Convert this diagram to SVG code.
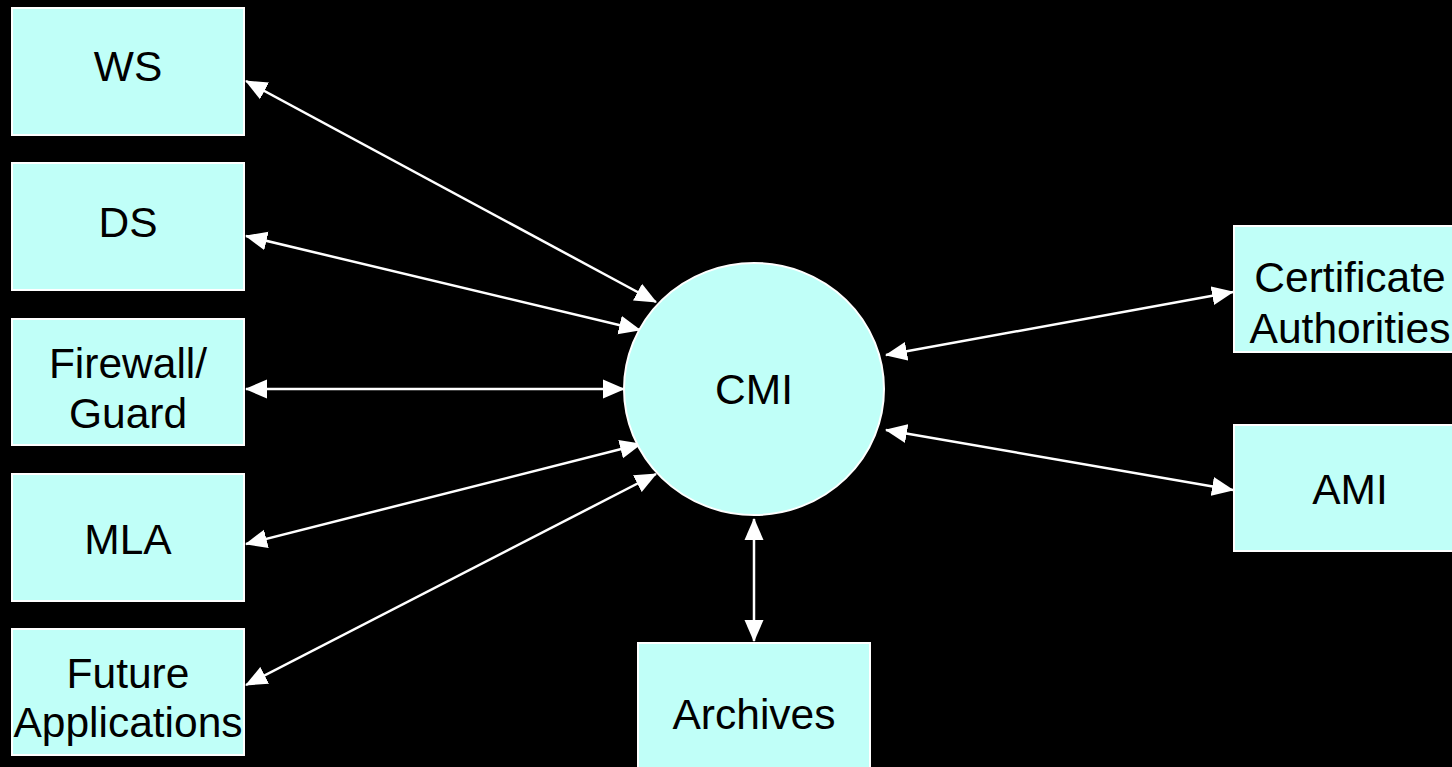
<svg xmlns="http://www.w3.org/2000/svg" width="1452" height="767" viewBox="0 0 1452 767">
  <style>
    .box { fill: #c0fff8; stroke: #ffffff; stroke-width: 2; }
    .lbl { font-family: "Liberation Sans", Arial, sans-serif; font-size: 42.5px; fill: #000000; text-anchor: middle; }
    .link { stroke: #ffffff; stroke-width: 2.5; fill: none; marker-start: url(#head); marker-end: url(#head); }
  </style>
  <defs>
    <marker id="head" markerUnits="userSpaceOnUse" viewBox="0 0 22 20" refX="21" refY="10" markerWidth="22" markerHeight="20" orient="auto-start-reverse">
      <path d="M0,0.5 L22,10 L0,19.5 Z" fill="#ffffff"/>
    </marker>
  </defs>
  <rect width="1452" height="767" fill="#000000"/>

  <g id="connectors">
    <line class="link" x1="246" y1="81" x2="656" y2="302"/>
    <line class="link" x1="246" y1="236" x2="640" y2="330"/>
    <line class="link" x1="246" y1="389" x2="624" y2="389"/>
    <line class="link" x1="246" y1="544" x2="641" y2="444"/>
    <line class="link" x1="246" y1="685" x2="656" y2="474"/>
    <line class="link" x1="886" y1="355" x2="1233" y2="292"/>
    <line class="link" x1="886" y1="430" x2="1233" y2="490"/>
    <line class="link" x1="754" y1="519" x2="754" y2="641"/>
  </g>

  <g id="ws">
    <rect class="box" x="12" y="8" width="232" height="127"/>
    <text class="lbl" x="128" y="81">WS</text>
  </g>
  <g id="ds">
    <rect class="box" x="12" y="163" width="232" height="127"/>
    <text class="lbl" x="128" y="237">DS</text>
  </g>
  <g id="firewall">
    <rect class="box" x="12" y="319" width="232" height="126"/>
    <text class="lbl" x="128" y="378">Firewall/</text>
    <text class="lbl" x="128" y="428">Guard</text>
  </g>
  <g id="mla">
    <rect class="box" x="12" y="474" width="232" height="127"/>
    <text class="lbl" x="128" y="554">MLA</text>
  </g>
  <g id="future">
    <rect class="box" x="12" y="629" width="232" height="126"/>
    <text class="lbl" x="128" y="688">Future</text>
    <text class="lbl" x="128" y="737">Applications</text>
  </g>
  <g id="cmi">
    <ellipse class="box" cx="754" cy="389" rx="130" ry="126"/>
    <text class="lbl" x="754" y="404">CMI</text>
  </g>
  <g id="archives">
    <rect class="box" x="638" y="643" width="232" height="130"/>
    <text class="lbl" x="754" y="729">Archives</text>
  </g>
  <g id="ca">
    <rect class="box" x="1234" y="226" width="232" height="126"/>
    <text class="lbl" x="1350" y="292">Certificate</text>
    <text class="lbl" x="1350" y="343">Authorities</text>
  </g>
  <g id="ami">
    <rect class="box" x="1234" y="425" width="232" height="126"/>
    <text class="lbl" x="1350" y="504">AMI</text>
  </g>
</svg>
